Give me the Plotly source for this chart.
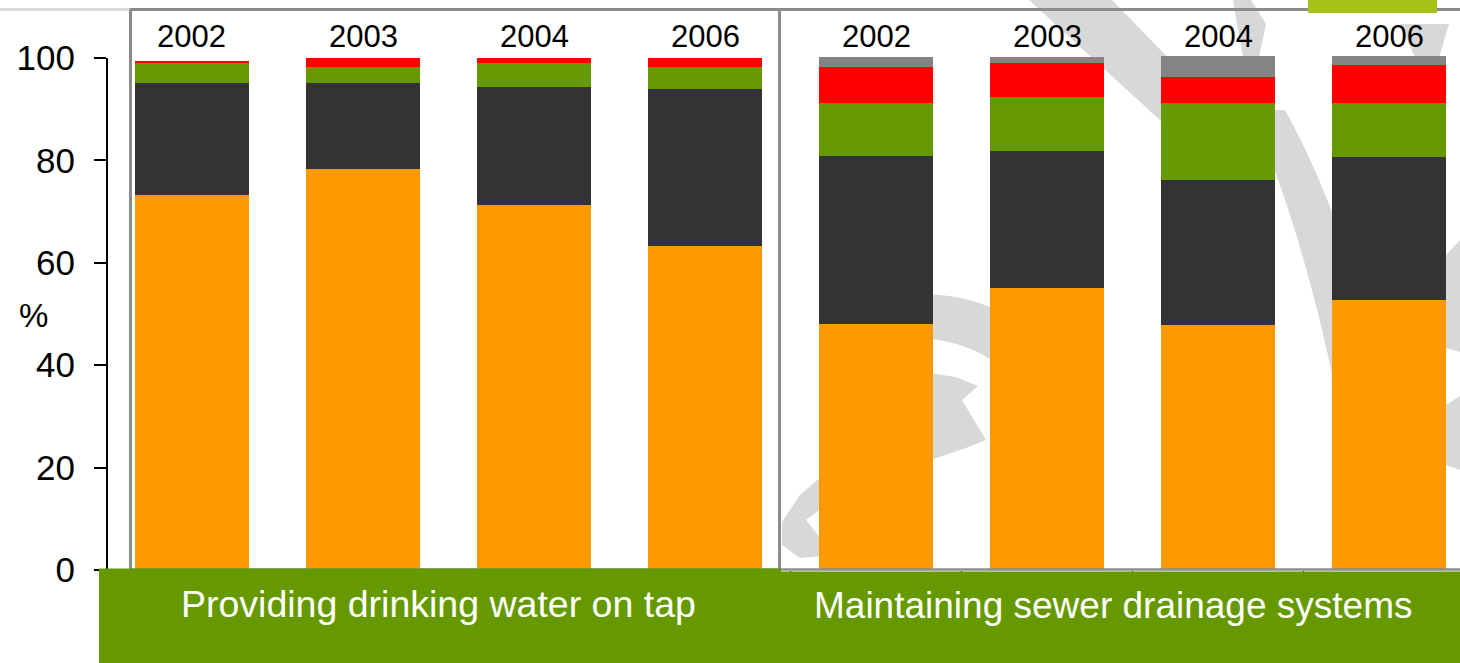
import plotly.graph_objects as go

# ---- data -------------------------------------------------------------
groups = ["Providing drinking water on tap", "Maintaining sewer drainage systems"]
years = ["2002", "2003", "2004", "2006"]

# stacked shares (%) per bar, first four = drinking water, last four = sewers
level_1 = [73.2, 78.3, 71.3, 63.3, 48.0, 55.0, 47.8, 52.7]   # orange
level_2 = [21.9, 16.8, 23.0, 30.6, 32.9, 26.9, 28.4, 27.9]   # dark grey
level_3 = [3.9, 3.1, 4.7, 4.3, 10.3, 10.4, 15.0, 10.6]       # green
level_4 = [0.5, 1.8, 1.0, 1.8, 7.0, 6.7, 5.0, 7.4]           # red
level_5 = [0.0, 0.0, 0.0, 0.0, 2.0, 1.2, 4.2, 1.8]           # grey

y_ticks = [0, 20, 40, 60, 80, 100]

series = [
    ("Level 1", level_1, "#FF9900"),
    ("Level 2", level_2, "#333333"),
    ("Level 3", level_3, "#669900"),
    ("Level 4", level_4, "#FF0000"),
    ("Level 5", level_5, "#848484"),
]

# ---- geometry helpers (pixel -> paper) --------------------------------
FIG_W, FIG_H = 1460, 663
L, R, T, B = 107, 1460, 10, 570
PW, PH = R - L, B - T


def px(x):
    return (x - L) / PW


def py(y):
    return (B - y) / PH


positions = list(range(len(years) * len(groups)))
labels = [y for _ in groups for y in years]

fig = go.Figure()
for name, vals, col in series:
    fig.add_trace(go.Bar(
        x=positions, y=vals, name=name,
        marker=dict(color=col, line=dict(width=0)),
        showlegend=False, hoverinfo="name+y",
    ))

shapes = []

# faint swirl watermark behind the right-hand panel
WM = "#D8D8D8"


def poly(pts):
    path = "M " + " L ".join(f"{px(x):.5f},{py(y):.5f}" for x, y in pts) + " Z"
    return dict(type="path", xref="paper", yref="paper", path=path,
                fillcolor=WM, line=dict(width=0), layer="below")


def curved(pts):
    # pts: start, then (control, end) pairs of quadratic segments
    s = pts[0]
    d = f"M {px(s[0]):.5f},{py(s[1]):.5f}"
    for c, e in pts[1:]:
        d += f" Q {px(c[0]):.5f},{py(c[1]):.5f} {px(e[0]):.5f},{py(e[1]):.5f}"
    d += " Z"
    return dict(type="path", xref="paper", yref="paper", path=d,
                fillcolor=WM, line=dict(width=0), layer="below")


shapes += [
    poly([(1029, 0), (1112, 0), (1182, 72), (1162, 122)]),
    poly([(1233, 0), (1251, 0), (1266, 24), (1258, 62), (1244, 62), (1237, 24)]),
    poly([(1400, 24), (1449, 24), (1437, 64), (1418, 64)]),
    curved([(1250, 110), ((1268, 110), (1285, 110)),
            ((1335, 200), (1370, 330)), ((1350, 360), (1336, 392)),
            ((1300, 220), (1250, 110))]),
    poly([(1446, 255), (1460, 240), (1460, 352), (1446, 348)]),
    poly([(1446, 405), (1460, 396), (1460, 470), (1446, 465)]),
    curved([(920, 294), ((960, 294), (992, 308)), ((992, 330), (992, 360)),
            ((960, 340), (920, 338)), ((920, 316), (920, 294))]),
    poly([(925, 372), (955, 377), (978, 386), (962, 400), (986, 440),
          (966, 448), (925, 462)]),
    poly([(782, 522), (800, 495), (822, 476), (822, 508), (806, 520),
          (822, 540), (822, 556), (800, 558), (782, 545)]),
]

# y-axis line from 0 to 100
shapes.append(dict(type="line", xref="paper", yref="y", x0=0, x1=0, y0=0, y1=100,
                   line=dict(color="black", width=2), layer="above"))

# panel frames and top rule
FRAME = "#8C8C8C"
shapes += [
    dict(type="line", xref="paper", yref="paper", x0=px(0), x1=px(130),
         y0=py(9.5), y1=py(9.5), line=dict(color="#DADADA", width=3), layer="above"),
    dict(type="line", xref="paper", yref="paper", x0=px(130), x1=px(1460),
         y0=py(9.5), y1=py(9.5), line=dict(color=FRAME, width=3), layer="above"),
    dict(type="line", xref="paper", yref="paper", x0=px(130.5), x1=px(130.5),
         y0=py(9.5), y1=py(570), line=dict(color=FRAME, width=3), layer="above"),
    dict(type="line", xref="paper", yref="paper", x0=px(779.5), x1=px(779.5),
         y0=py(9.5), y1=py(570), line=dict(color=FRAME, width=3), layer="above"),
    dict(type="line", xref="paper", yref="paper", x0=px(130), x1=px(1460),
         y0=py(569.5), y1=py(569.5), line=dict(color=FRAME, width=2.5), layer="above"),
]

# green caption band under the bars
BAND = "#669900"
shapes += [
    dict(type="rect", xref="paper", yref="paper", x0=px(99), x1=px(1460),
         y0=py(663), y1=py(571.5), fillcolor=BAND, line=dict(width=0), layer="above"),
    dict(type="rect", xref="paper", yref="paper", x0=px(99), x1=px(781),
         y0=py(580), y1=py(568.5), fillcolor=BAND, line=dict(width=0), layer="above"),
    dict(type="rect", xref="paper", yref="paper", x0=px(1308), x1=px(1437),
         y0=py(13), y1=py(-2), fillcolor="#A5C31B", line=dict(width=0), layer="above"),
]

FONT = "Liberation Sans, Arial, sans-serif"

annotations = []
for pos, lab in zip(positions, labels):
    annotations.append(dict(x=pos, y=104.2, xref="x", yref="y", text=lab,
                            showarrow=False, yanchor="middle",
                            font=dict(family=FONT, size=31, color="black")))

annotations += [
    dict(x=px(438), y=py(604), xref="paper", yref="paper", text=groups[0],
         showarrow=False, yanchor="middle", xanchor="center",
         font=dict(family=FONT, size=37.5, color="white")),
    dict(x=px(1113), y=py(605), xref="paper", yref="paper", text=groups[1],
         showarrow=False, yanchor="middle", xanchor="center",
         font=dict(family=FONT, size=37, color="white")),
    dict(x=px(33), y=py(315), xref="paper", yref="paper", text="%",
         showarrow=False, yanchor="middle", xanchor="center",
         font=dict(family=FONT, size=33, color="black")),
]

fig.update_layout(
    width=FIG_W, height=FIG_H,
    margin=dict(l=L, r=FIG_W - R, t=T, b=FIG_H - B),
    barmode="stack", bargap=0.333,
    paper_bgcolor="white", plot_bgcolor="rgba(0,0,0,0)",
    shapes=shapes, annotations=annotations,
    xaxis=dict(range=[-0.497, 7.415], tickvals=[p + 0.5 for p in positions[:-1]],
               ticks="outside", ticklen=4, tickcolor="black", tickwidth=1,
               showticklabels=False, showgrid=False, zeroline=False, showline=False),
    yaxis=dict(range=[0, 109.375], tickvals=y_ticks, ticks="outside", ticklen=12,
               tickwidth=2, tickcolor="black", showgrid=False, zeroline=False,
               showline=False, ticklabelstandoff=12,
               tickfont=dict(family=FONT, size=35, color="black")),
)

fig.write_html("out.html")
